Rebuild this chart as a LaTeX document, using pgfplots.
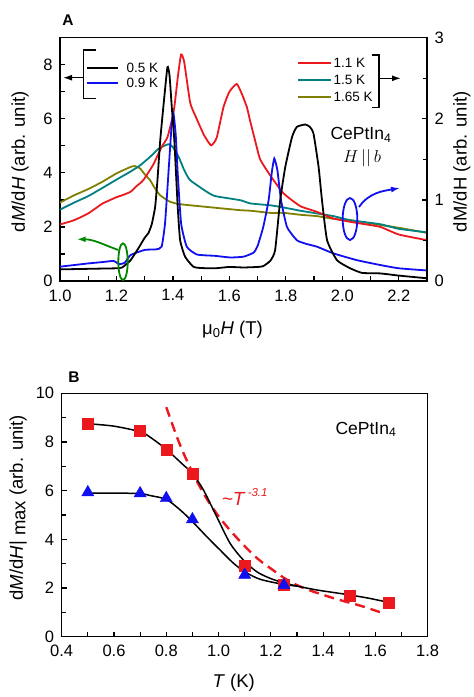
\documentclass[border=0pt]{standalone}
\usepackage{fontspec}
\setmainfont{Liberation Sans}
\usepackage{pgfplots}
\pgfplotsset{compat=1.18}
\usetikzlibrary{arrows.meta}
\definecolor{cred}{RGB}{235,25,30}
\definecolor{cblue}{RGB}{15,15,240}
\definecolor{cteal}{RGB}{0,128,128}
\definecolor{colive}{RGB}{128,128,0}
\definecolor{cgreen}{RGB}{0,135,0}
\newcommand{\tickfont}{\fontsize{16.5}{18}\selectfont}
\newcommand{\labfont}{\fontsize{18.5}{21}\selectfont}
\newcommand{\legfont}{\fontsize{13.5}{15}\selectfont}
\pgfplotsset{
 myaxis/.style={scale only axis, tick align=inside,
  axis line style={line width=1.5pt},
  major tick style={line width=1.2pt, black},
  minor tick style={line width=1.2pt, black},
  major tick length=5pt, minor tick length=4.5pt,
  tick label style={font=\tickfont},
  label style={font=\labfont},
  /pgf/number format/assume math mode=true},
 curve/.style={line width=1.8pt, smooth, tension=0.3},
}
\begin{document}
\begin{tikzpicture}
% ---------------- Panel A ----------------
\begin{axis}[myaxis, at={(60pt,-37.7pt)}, anchor=north west,
  width=367pt, height=243.3pt,
  xmin=1.0, xmax=2.3, ymin=0, ymax=9,
  xtick={1.0,1.2,1.4,1.6,1.8,2.0,2.2},
  minor xtick={1.1,1.3,1.5,1.7,1.9,2.1,2.3},
  ytick={0,2,4,6,8}, minor ytick={1,3,5,7,9},
  xtick pos=lower, ytick pos=left,
  xticklabel style={/pgf/number format/fixed, /pgf/number format/fixed zerofill, /pgf/number format/precision=1, yshift=-5pt},
  yticklabel style={xshift=-4pt},
  xlabel={μ\textsubscript{0}\textit{H} (T)},
  xlabel style={at={(axis description cs:0.47,0)}, anchor=center, yshift=-49pt},
  ylabel={d\textit{M}/d\textit{H} (arb. unit)},
  ylabel style={at={(axis description cs:-0.109,0.49)}, anchor=center},
]
\addplot[curve, colive] coordinates {(1.00,2.9)(1.05,3.17)(1.10,3.4)(1.15,3.67)(1.20,3.98)(1.25,4.22)(1.265,4.25)(1.284,4.16)(1.30,3.95)(1.319,3.73)(1.335,3.45)(1.355,3.17)(1.39,2.93)(1.426,2.84)(1.52,2.74)(1.638,2.62)(1.674,2.6)(1.745,2.52)(1.792,2.52)(1.851,2.45)(1.91,2.4)(1.969,2.3)(2.028,2.25)(2.135,2.07)(2.2,1.97)(2.3,1.78)};
\addplot[curve, cteal] coordinates {(1.00,2.64)(1.05,2.9)(1.10,3.14)(1.15,3.44)(1.20,3.75)(1.25,4.05)(1.284,4.28)(1.32,4.6)(1.35,4.9)(1.384,5.06)(1.40,4.95)(1.42,4.6)(1.44,4.1)(1.461,3.73)(1.52,3.3)(1.55,3.14)(1.638,2.99)(1.674,2.87)(1.745,2.8)(1.792,2.72)(1.851,2.6)(1.91,2.5)(1.969,2.4)(2.028,2.25)(2.135,2.1)(2.2,1.93)(2.3,1.8)};
\addplot[curve, cred] coordinates {(1.00,2.09)(1.05,2.25)(1.10,2.5)(1.15,2.86)(1.20,3.1)(1.22,3.17)(1.25,3.3)(1.27,3.5)(1.295,3.73)(1.33,4.3)(1.36,4.96)(1.38,5.3)(1.395,5.9)(1.405,6.43)(1.418,7.6)(1.429,8.38)(1.44,8.1)(1.461,6.6)(1.48,6.1)(1.51,5.4)(1.535,5.02)(1.555,5.3)(1.579,6.43)(1.60,7.0)(1.626,7.29)(1.645,6.9)(1.662,6.43)(1.674,5.9)(1.691,5.2)(1.709,4.5)(1.745,3.9)(1.792,3.24)(1.851,2.77)(1.91,2.56)(1.969,2.31)(2.028,2.19)(2.08,2.1)(2.135,2.0)(2.2,1.72)(2.3,1.51)};
\addplot[curve, cblue] coordinates {(1.00,0.53)(1.05,0.59)(1.10,0.65)(1.15,0.70)(1.19,0.74)(1.21,0.62)(1.23,0.68)(1.25,0.96)(1.30,1.15)(1.34,1.17)(1.36,1.27)(1.372,2.13)(1.384,3.97)(1.395,5.7)(1.402,6.19)(1.41,5.4)(1.417,3.97)(1.429,2.13)(1.449,1.27)(1.485,0.98)(1.55,0.93)(1.603,0.87)(1.65,0.9)(1.686,1.05)(1.70,1.3)(1.72,2.0)(1.739,2.99)(1.75,4.0)(1.759,4.53)(1.77,4.1)(1.783,2.99)(1.804,2.0)(1.839,1.51)(1.87,1.38)(1.91,1.27)(1.969,1.02)(2.052,0.77)(2.135,0.59)(2.2,0.47)(2.3,0.39)};
\addplot[curve, black] coordinates {(1.00,0.43)(1.05,0.44)(1.10,0.45)(1.15,0.46)(1.20,0.47)(1.22,0.50)(1.25,0.77)(1.28,1.25)(1.30,1.60)(1.313,1.77)(1.325,2.1)(1.337,2.74)(1.345,3.7)(1.355,5.2)(1.366,6.43)(1.3805,7.91)(1.388,7.6)(1.396,6.43)(1.405,5.2)(1.417,2.74)(1.4255,1.51)(1.443,0.9)(1.472,0.53)(1.5,0.48)(1.55,0.47)(1.6,0.52)(1.65,0.5)(1.70,0.52)(1.72,0.55)(1.745,0.75)(1.762,1.14)(1.78,2.99)(1.798,4.22)(1.822,5.33)(1.839,5.7)(1.869,5.79)(1.885,5.7)(1.898,5.45)(1.916,4.22)(1.928,2.99)(1.946,1.51)(1.981,0.77)(2.028,0.47)(2.07,0.3)(2.135,0.28)(2.2,0.2)(2.25,0.15)(2.3,0.1)};
\end{axis}
\begin{axis}[myaxis, at={(60pt,-37.7pt)}, anchor=north west,
  width=367pt, height=243.3pt,
  xmin=1.0, xmax=2.3, ymin=0, ymax=3,
  axis y line*=right, axis x line=none,
  ytick={0,1,2,3}, minor ytick={0.5,1.5,2.5},
  yticklabel style={xshift=4pt},
  ylabel={dM/dH (arb. unit)},
  ylabel style={at={(axis description cs:1.095,0.49)}, anchor=center},
]
\end{axis}
% legends / annotations panel A
\begin{scope}[line width=1.4pt]
\draw (95.7pt,-50pt) -- (83.3pt,-50pt) -- (83.3pt,-98.3pt) -- (95.7pt,-98.3pt);
\draw[-{Latex[length=9pt,width=6pt]}] (83.3pt,-77.7pt) -- (63pt,-77.7pt);
\draw[black, line width=1.8pt] (87pt,-67.7pt) -- (118pt,-67.7pt);
\draw[cblue, line width=1.8pt] (87pt,-83.3pt) -- (118pt,-83.3pt);
\node[anchor=west, inner sep=0, font=\legfont] at (126pt,-67.7pt) {0.5 K};
\node[anchor=west, inner sep=0, font=\legfont] at (126pt,-83.3pt) {0.9 K};
\draw (371.7pt,-55pt) -- (379pt,-55pt) -- (379pt,-107.3pt) -- (371.7pt,-107.3pt);
\draw[-{Latex[length=9pt,width=6pt]}] (379pt,-78.3pt) -- (401pt,-78.3pt);
\draw[cred, line width=1.8pt] (298pt,-63.3pt) -- (331pt,-63.3pt);
\draw[cteal, line width=1.8pt] (298pt,-80.3pt) -- (331pt,-80.3pt);
\draw[colive, line width=1.8pt] (298pt,-96.7pt) -- (331pt,-96.7pt);
\node[anchor=west, inner sep=0, font=\legfont] at (333pt,-63.3pt) {1.1 K};
\node[anchor=west, inner sep=0, font=\legfont] at (333pt,-80.3pt) {1.5 K};
\node[anchor=west, inner sep=0, font=\legfont] at (333pt,-96.7pt) {1.65 K};
\node[font=\fontsize{17.5}{19}\selectfont] at (361pt,-135pt) {CePtIn\textsubscript{4}};
\node[font=\fontsize{18}{19}\selectfont] at (362pt,-158pt) {$H\,||\,b$};
\draw[cblue, line width=1.8pt] (350pt,-219pt) ellipse [x radius=7.3pt, y radius=21pt];
\draw[cblue, line width=1.8pt, -{Latex[length=9pt,width=6pt]}] (359pt,-207pt) to[out=55,in=190] (400pt,-188pt);
\draw[cgreen, line width=1.8pt] (123pt,-261.7pt) ellipse [x radius=4.7pt, y radius=18.3pt];
\draw[cgreen, line width=1.8pt, -{Latex[length=9pt,width=6pt]}] (118.3pt,-250pt) to[out=160,in=0] (76.7pt,-239.3pt);
\end{scope}
\node[font=\bfseries\fontsize{15.5}{17}\selectfont] at (68pt,-20pt) {A};
\node[font=\bfseries\fontsize{15.5}{17}\selectfont] at (74pt,-377pt) {B};
% ---------------- Panel B ----------------
\begin{axis}[myaxis, at={(61.7pt,-393.3pt)}, anchor=north west,
  width=366pt, height=243.4pt,
  xmin=0.4, xmax=1.8, ymin=0, ymax=10,
  xtick={0.4,0.6,0.8,1.0,1.2,1.4,1.6,1.8},
  minor xtick={0.5,0.7,0.9,1.1,1.3,1.5,1.7},
  ytick={0,2,4,6,8,10}, minor ytick={1,3,5,7,9},
  xtick pos=lower, ytick pos=left,
  xticklabel style={/pgf/number format/fixed, /pgf/number format/fixed zerofill, /pgf/number format/precision=1, yshift=-5pt},
  yticklabel style={xshift=-4pt},
  xlabel={\textit{T} (K)},
  xlabel style={at={(axis description cs:0.47,0)}, anchor=center, yshift=-46pt},
  ylabel={d\textit{M}/d\textit{H}|\raisebox{-0.25ex}{ max} (arb. unit)},
  ylabel style={at={(axis description cs:-0.119,0.53)}, anchor=center},
]
\addplot[line width=2.4pt, cred, dash pattern=on 10pt off 6pt, smooth] coordinates {(0.8,9.43)(0.85,7.95)(0.9,6.75)(0.95,5.75)(1.0,4.95)(1.05,4.3)(1.1,3.72)(1.15,3.2)(1.2,2.8)(1.25,2.42)(1.3,2.12)(1.35,1.9)(1.4,1.72)(1.45,1.55)(1.5,1.4)(1.55,1.25)(1.62,1.0)};
\addplot[line width=1.5pt, black, smooth] coordinates {(0.5,8.75)(0.6,8.65)(0.7,8.42)(0.738,8.2)(0.8,7.7)(0.865,7.06)(0.9,6.71)(0.942,6.03)(0.993,4.93)(1.044,3.84)(1.095,3.15)(1.146,2.67)(1.197,2.4)(1.248,2.22)(1.3,2.08)(1.376,1.92)(1.45,1.8)(1.5,1.72)(1.58,1.57)(1.65,1.41)};
\addplot[line width=1.5pt, black, smooth] coordinates {(0.5,5.9)(0.6,5.9)(0.7,5.88)(0.738,5.8)(0.8,5.64)(0.853,5.21)(0.9,4.73)(0.955,4.11)(1.006,3.56)(1.057,3.02)(1.1,2.67)(1.159,2.36)(1.248,2.15)(1.3,2.08)};
\addplot[only marks, mark=square*, mark size=5.5pt, cred, mark options={draw=cred, fill=cred}] coordinates {(0.5,8.74)(0.7,8.45)(0.8,7.68)(0.9,6.71)(1.1,2.92)(1.25,2.15)(1.5,1.7)(1.65,1.41)};
\addplot[only marks, mark=triangle*, mark size=7pt, cblue, mark options={draw=cblue, fill=cblue}] coordinates {(0.5,5.93)(0.7,5.89)(0.8,5.69)(0.9,4.82)(1.1,2.54)(1.25,2.12)};
\node[font=\fontsize{17.5}{19}\selectfont] at (axis cs:1.564,8.52) {CePtIn\textsubscript{4}};
\node[anchor=west, inner sep=0, text=cred, font=\fontsize{19}{20}\selectfont\itshape] at (axis cs:1.012,5.75) {\textasciitilde T\,\raisebox{0.9ex}{\fontsize{11.5}{12}\selectfont -3.1}};
\end{axis}
\pgfresetboundingbox
\path[use as bounding box] (0,0) rectangle (474pt,-697pt);
\end{tikzpicture}
\end{document}
